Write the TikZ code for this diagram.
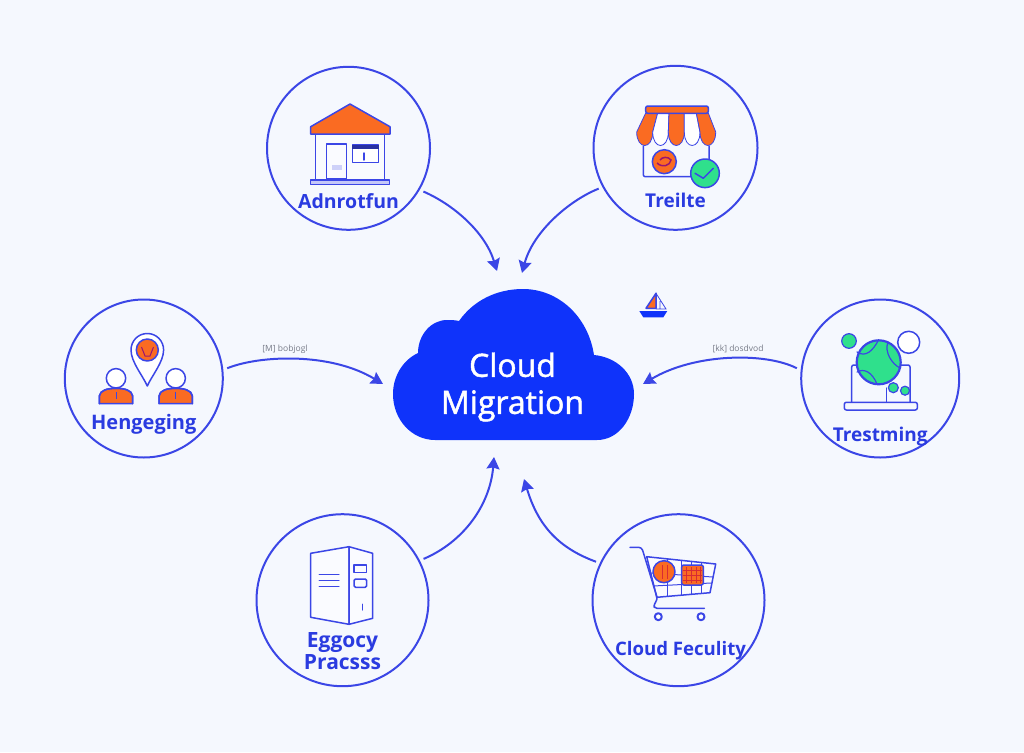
\documentclass[tikz,border=0pt]{standalone}
\usepackage{fontspec}
\usepackage{xcolor}
\usepackage{tikz}
\usetikzlibrary{arrows.meta, positioning}
\setmainfont{Open Sans}
\newfontfamily\hubfont[FakeBold=1.5]{Open Sans}
\definecolor{pagebg}{HTML}{F5F8FE}
\definecolor{cloudblue}{HTML}{0F33FA}
\definecolor{linkblue}{HTML}{3B46E6}
\definecolor{textblue}{HTML}{2A3BE0}
\definecolor{iconorange}{HTML}{FA6B22}
\definecolor{icongreen}{HTML}{2FE08C}
\definecolor{edgegray}{HTML}{777B88}

\begin{document}
\begin{tikzpicture}[
    x=1pt, y=-1pt,
    spokebox/.style={draw=linkblue, circle, line width=2pt, outer sep=5pt},
    spokelabel/.style={text=textblue, align=center, inner sep=0pt, font=\fontsize{19.5}{22}\selectfont\bfseries},
    hubbox/.style={minimum width=241pt, minimum height=151pt, inner sep=0pt},
    hublabel/.style={text=white, align=center, inner sep=0pt, font=\fontsize{32}{37}\selectfont\hubfont},
    edgelabel/.style={text=edgegray, inner sep=0pt, font=\fontsize{8.5}{9}\selectfont},
    arrow/.style={-{Stealth[length=12pt, width=13pt, inset=1.5pt]}, line width=2pt, color=linkblue},
    iconline/.style={draw=linkblue, line width=1.5pt, line join=round, line cap=round},
    iconorange/.style={iconline, fill=iconorange},
    icongreen/.style={iconline, fill=icongreen}
]
\useasboundingbox (0,0) rectangle (1024,752);
\fill[pagebg] (0,0) rectangle (1024,752);

\fill[cloudblue] (435,440) -- (597,440) .. controls (619,440) and (634,418) .. (634,394)
    .. controls (634,373) and (616,357) .. (594,355) .. controls (588,316) and (558,289) .. (523,289)
    .. controls (496,289) and (473,301) .. (459,321) .. controls (455,320) and (451,320) .. (447,320)
    .. controls (431,320) and (418,335) .. (418,353) .. controls (403,360) and (393,376) .. (393,394)
    .. controls (393,420) and (412,440) .. (435,440) -- cycle;
\node[hubbox] (cloud) at (513.5,364.5) {};
\node[hublabel, yshift=-22.5pt, xshift=-1pt] (cloudlabel) at (cloud) {Cloud\\Migration};

\node[spokebox, minimum size=163pt, above=54pt of cloud, xshift=-165pt] (adm) {};
\node[spokebox, minimum size=164pt, above=54pt of cloud, xshift=162pt] (trl) {};
\node[spokebox, minimum size=158pt, left=165pt of cloud, yshift=-14pt] (hen) {};
\node[spokebox, minimum size=158pt, right=162pt of cloud, yshift=-14pt] (trs) {};
\node[spokebox, minimum size=172pt, below=69pt of cloud, xshift=-171pt] (egg) {};
\node[spokebox, minimum size=172pt, below=69pt of cloud, xshift=165pt] (fac) {};

\node[spokelabel, yshift=-53pt] (admlabel) at (adm) {Adnrotfun};
\node[spokelabel, yshift=-53pt, font=\fontsize{19}{20}\selectfont\bfseries] (trllabel) at (trl) {Treilte};
\node[spokelabel, yshift=-46pt, font=\fontsize{20}{22}\selectfont\bfseries] (henlabel) at (hen) {Hengeging};
\node[spokelabel, yshift=-58pt, font=\fontsize{19}{22}\selectfont\bfseries] (trslabel) at (trs) {Trestming};
\node[spokelabel, yshift=-51pt, font=\fontsize{21}{22}\selectfont\bfseries] (egglabel) at (egg) {Eggocy\\Pracsss};
\node[spokelabel, yshift=-50pt, xshift=2pt, font=\fontsize{18.6}{22}\selectfont\bfseries] (faclabel) at (fac) {Cloud Feculity};

\coordinate (tipadm) at (497,271);
\coordinate (tiptrl) at (522,273);
\coordinate (tiphen) at (383,384);
\coordinate (tiptrs) at (643,384);
\coordinate (tipegg) at (494,457);
\coordinate (tipfac) at (524,479);

\draw[arrow] (adm.-30) .. controls +(30,13) and +(-12,-39) .. (tipadm);
\draw[arrow] (trl.208) .. controls +(-30,12) and +(11,-41) .. (tiptrl);
\draw[arrow] (hen.7) .. controls +(32,-13) and +(-53,-32) .. (tiphen);
\draw[arrow] (trs.173) .. controls +(-31,-16) and +(52,-31) .. (tiptrs);
\draw[arrow] (egg.27) .. controls +(40,-17) and +(-4,48) .. (tipegg);
\draw[arrow] (fac.155) .. controls +(-41,-15) and +(13,43) .. (tipfac);

\node[edgelabel] (henedge) at (285,349) {[M] bobjogl};
\node[edgelabel] (trsedge) at (738,349) {[kk] dosdvod};

% house
\draw[iconline, fill=white!40!pagebg] (315.7,134) rectangle (384.3,180);
\draw[iconline, fill=white!50!pagebg] (326.7,144) rectangle (346.7,179);
\draw[iconline, fill=white] (352.7,145) rectangle (378.3,162.7);
\draw[iconline] (364,153) -- (364,160);
\fill[linkblue!70!black] (351.7,145) rectangle (379,149);
\fill[linkblue!25] (332,165) rectangle (342,170);
\draw[iconorange] (310.7,126.7) -- (350,104) -- (390,126.7) -- (390,134) -- (310.7,134) -- cycle;
\draw[iconline, line width=1.2pt, fill=linkblue!30] (310.7,180) rectangle (389.3,184.3);

% shop
\foreach \ta/\tb/\ba/\bb/\stripe in {645.7/657.7/636.7/652.7/iconorange, 657.7/669/652.7/668.3/white, 669/684.3/668.3/684.3/iconorange, 684.3/696.3/684.3/700/white, 696.3/708.3/700/715.7/iconorange}
    \draw[iconline, line width=0.8pt, fill=\stripe] (\ta,113) -- (\ba,132) .. controls (\ba,150) and (\bb,150) .. (\bb,132) -- (\tb,113) -- cycle;
\draw[iconorange, rounded corners=2pt] (645.7,106) rectangle (708.3,113.3);
\draw[iconline, rounded corners=2pt] (643.3,146) -- (643.3,176.7) -- (709,176.7) -- (709,146);
\draw[iconorange] (664.3,161.7) circle (12);
\draw[draw=purple!70!linkblue, line width=1.5pt] (657,163) .. controls (662,168) and (670,166) .. (671,160) .. controls (668,156) and (662,157) .. (660,160);
\draw[icongreen] (705,173.3) circle (14.3);
\draw[iconline] (695,173.3) -- (703.3,178.3) -- (713.3,168.3);

% pin and people
\draw[iconline, fill=white] (147.3,386) .. controls (143,376) and (131,362) .. (131,350) .. controls (131,341) and (138,333.5) .. (147.3,333.5) .. controls (156.6,333.5) and (163.6,341) .. (163.6,350) .. controls (163.6,362) and (151.6,376) .. (147.3,386) -- cycle;
\draw[iconorange] (147.3,350) circle (11);
\draw[draw=purple!70!linkblue, line width=1pt] (141.5,347) -- (145,356) -- (150,356) -- (153.5,347);
\foreach \cx in {116,175.7} {
    \draw[iconline, fill=white] (\cx,378.3) circle (9.7);
    \fill[iconorange] (\cx-16.7,403.7) -- (\cx-16.7,396) .. controls (\cx-16,390) and (\cx-8,388.3) .. (\cx,388.3) .. controls (\cx+8,388.3) and (\cx+16,390) .. (\cx+16.7,396) -- (\cx+16.7,403.7) -- cycle;
    \draw[iconline] (\cx-16.7,403.7) -- (\cx-16.7,396) .. controls (\cx-16,390) and (\cx-8,388.3) .. (\cx,388.3) .. controls (\cx+8,388.3) and (\cx+16,390) .. (\cx+16.7,396) -- (\cx+16.7,403.7);
    \draw[linkblue, line width=0.8pt] (\cx,392) -- (\cx,399);
}

% laptop and globe
\draw[iconline, rounded corners=2pt] (851.7,402) -- (851.7,365) -- (910,365) -- (910,402);
\draw[iconline, rounded corners=2pt, fill=pagebg] (844.3,402.3) rectangle (917.3,410);
\draw[iconline] (886.7,388) -- (886.7,402);
\draw[icongreen, line width=2.2pt] (878.7,362.3) circle (22);
\draw[iconline, line width=1.2pt] (857,352) .. controls (866,358) and (873,350) .. (878,341);
\draw[iconline, line width=1.2pt] (857,372) .. controls (864,368) and (872,372) .. (877,384);
\draw[iconline, line width=1.2pt] (888,342) .. controls (884,352) and (892,364) .. (900,368);
\draw[icongreen, line width=1.2pt] (849,341) circle (7.3);
\draw[iconline, fill=white] (908.7,342.3) circle (11);
\draw[icongreen, line width=1.2pt] (893.3,387.7) circle (5);
\draw[icongreen, line width=1.2pt] (905,390.7) circle (4.5);

% server
\draw[iconline, fill=white!50!pagebg] (310.7,553.3) -- (349,546.7) -- (349,624.3) -- (310.7,617.3) -- cycle;
\draw[iconline, fill=white!50!pagebg] (349,546.7) -- (372.7,553.3) -- (372.7,618.3) -- (349,624.3) -- cycle;
\foreach \ly in {574,580,586}
    \draw[iconline, line width=1pt] (319,\ly) -- (339,\ly);
\draw[iconline] (354,565) rectangle (366.7,572.7);
\draw[iconline, rounded corners=1.5pt] (354,579) rectangle (366.7,587.3);
\draw[iconline, line width=1pt] (362.3,604) -- (362.3,610);

% cart
\draw[iconline, fill=white!50!pagebg] (646.7,556.7) -- (715.7,564) -- (710,592.7) -- (656.7,597.3) -- cycle;
\foreach \ax/\ay/\bx/\by in {650/573/713/577, 653/586/711/583, 667/558.8/667/596.4, 681/560.3/681/595.2, 691/561.4/691/594.3, 701/562.4/701/593.5}
    \draw[iconline, line width=1pt] (\ax,\ay) -- (\bx,\by);
\draw[iconline, rounded corners=3pt] (630,547.3) -- (641.7,547.3) -- (657.7,599.3) -- (654,604) -- (654,608.3) -- (704.3,608.3);
\draw[iconorange] (664,571.7) circle (11);
\draw[iconorange, rounded corners=2pt] (681.7,565) rectangle (703.3,585);
\foreach \gx in {686,691,696,700}
    \draw[draw=purple!60!iconorange, line width=0.6pt] (\gx,567) -- (\gx,583);
\foreach \gy in {570,575,580}
    \draw[draw=purple!60!iconorange, line width=0.6pt] (683,\gy) -- (702,\gy);
\draw[draw=purple!60!iconorange, line width=0.6pt] (662,565) -- (662,579) (667,565) -- (667,579);
\draw[iconline, line width=2pt, fill=white] (658.3,616.7) circle (3.5);
\draw[iconline, line width=2pt, fill=white] (701,616.7) circle (3.5);

% boat
\fill[iconorange] (656,293.3) -- (646,308.3) -- (656,308.3) -- cycle;
\draw[draw=linkblue, line width=0.8pt] (656,292.5) -- (656,309) (656,293.3) -- (666,309) -- (656,309) (660,301) -- (660,309);
\fill[cloudblue] (639.3,311) -- (667.3,311) -- (663.3,317.3) -- (643.3,317.3) -- cycle;

\end{tikzpicture}
\end{document}
